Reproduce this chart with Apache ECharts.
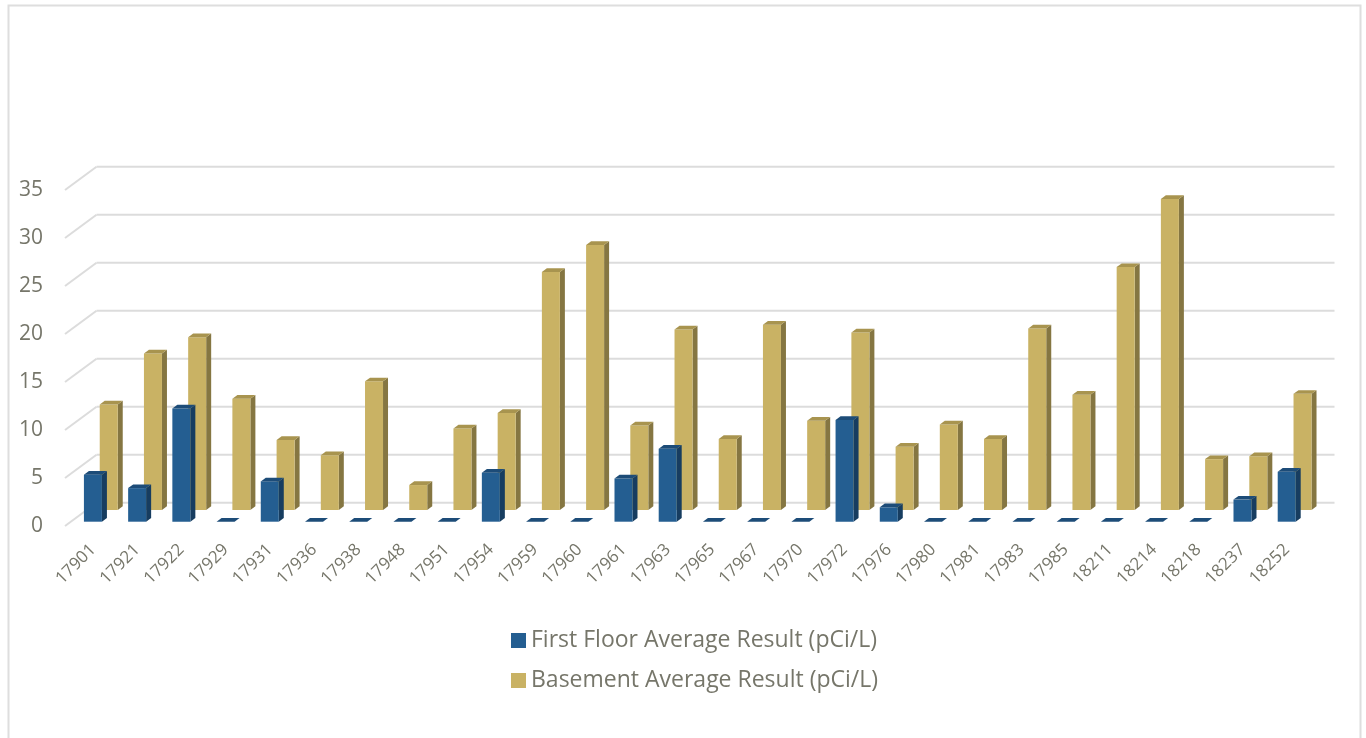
<!DOCTYPE html>
<html>
<head>
<meta charset="utf-8">
<title>Radon results by ZIP code</title>
<script src="https://cdn.jsdelivr.net/npm/echarts@6/dist/echarts.min.js"></script>
<style>
  html, body { margin: 0; padding: 0; background: #ffffff; }
  #chart { width: 1366px; height: 738px; }
</style>
</head>
<body>
<div id="chart"></div>
<script>
// ZIP codes along the category axis
const categories = ['17901','17921','17922','17929','17931','17936','17938','17948','17951','17954',
  '17959','17960','17961','17963','17965','17967','17970','17972','17976','17980',
  '17981','17983','17985','18211','18214','18218','18237','18252'];

// Average radon results, pCi/L
const firstFloor = [4.9, 3.5, 11.8, 0, 4.2, 0, 0, 0, 0, 5.1,
  0, 0, 4.5, 7.6, 0, 0, 0, 10.6, 1.5, 0,
  0, 0, 0, 0, 0, 0, 2.3, 5.2];
const basement = [11.0, 16.3, 18.0, 11.6, 7.3, 5.7, 13.4, 2.6, 8.5, 10.1,
  24.8, 27.6, 8.8, 18.8, 7.4, 19.3, 9.3, 18.5, 6.6, 8.9,
  7.4, 18.9, 12.0, 25.3, 32.4, 5.3, 5.6, 12.1];

// Value axis ticks
const yTicks = [0, 5, 10, 15, 20, 25, 30, 35];

const seriesNames = ['First Floor Average Result (pCi/L)', 'Basement Average Result (pCi/L)'];

// Oblique 3D projection: depth d moves a point right by d*K and up by d
const K = 31.5 / 23.3;
const WALL_DEPTH = 23.3;          // back wall behind the front plane
const ROW_DEPTH = [4.3, 16];      // depth of each series row
const BAR_W = 18;                 // front face width
const BAR_D = 3.7;                // bar thickness in depth

const TEXT = '#76766a';
const FONT = 'Open Sans';
const GRID_COLOR = '#dcdcdc';

const palette = [
  { front: '#245e91', side: '#173d60', top: '#1d4c78' },
  { front: '#c9b264', side: '#857642', top: '#a8944f' }
];

function barRenderer(rowDepth, colors) {
  return function (params, api) {
    const idx = api.value(0);
    const val = api.value(1);
    const base = api.coord([idx, 0]);
    const top = api.coord([idx, val]);
    const cx = base[0] + rowDepth * K;
    const xl = cx - BAR_W / 2, xr = cx + BAR_W / 2;
    const yb = base[1] - rowDepth, yt = top[1] - rowDepth;
    const dx = BAR_D * K, dy = -BAR_D;
    return {
      type: 'group',
      children: [
        { type: 'polygon', shape: { points: [[xr, yt], [xr, yb], [xr + dx, yb + dy], [xr + dx, yt + dy]] },
          style: { fill: colors.side } },
        { type: 'rect', shape: { x: xl, y: yt, width: BAR_W, height: yb - yt },
          style: { fill: colors.front } },
        { type: 'polygon', shape: { points: [[xl, yt], [xr, yt], [xr + dx, yt + dy], [xl + dx, yt + dy]] },
          style: { fill: colors.top } }
      ]
    };
  };
}

function wallRenderer(params, api) {
  const v = api.value(1);
  const cs = params.coordSys;
  const y = api.coord([0, v])[1];
  const x0 = cs.x, x1 = cs.x + cs.width;
  const bx = WALL_DEPTH * K, by = -WALL_DEPTH;
  const lineStyle = { stroke: GRID_COLOR, lineWidth: 2, fill: null };
  return {
    type: 'group',
    children: [
      { type: 'line', shape: { x1: x0, y1: y, x2: x0 + bx, y2: y + by }, style: lineStyle },
      { type: 'line', shape: { x1: x0 + bx, y1: y + by, x2: x1 + bx, y2: y + by }, style: lineStyle }
    ]
  };
}

const chart = echarts.init(document.getElementById('chart'), null, { renderer: 'canvas' });

chart.setOption({
  backgroundColor: '#ffffff',
  animation: false,
  color: [palette[0].front, palette[1].front],
  textStyle: { fontFamily: FONT },
  graphic: [{
    type: 'rect', silent: true,
    shape: { x: 8.5, y: 5.5, width: 1352, height: 800 },
    style: { fill: null, stroke: '#dedede', lineWidth: 2 }
  }],
  grid: [
    { left: 65, right: 63, top: 190, bottom: 212 },
    { left: 71, right: 57, top: 190, bottom: 212 }
  ],
  xAxis: [
    { type: 'category', gridIndex: 0, data: categories,
      axisLine: { show: false }, axisTick: { show: false }, axisLabel: { show: false } },
    { type: 'category', gridIndex: 1, data: categories,
      axisLine: { show: false }, axisTick: { show: false },
      axisLabel: { interval: 0, rotate: 45, margin: 21, fontSize: 17, color: TEXT, fontFamily: FONT } }
  ],
  yAxis: [
    { type: 'value', gridIndex: 0, min: 0, max: 35, interval: 5,
      axisLine: { show: false }, axisTick: { show: false }, splitLine: { show: false },
      axisLabel: { margin: 22, fontSize: 21, color: TEXT, fontFamily: FONT } },
    { type: 'value', gridIndex: 1, min: 0, max: 35, show: false }
  ],
  legend: {
    orient: 'vertical',
    left: 506, top: 624,
    itemWidth: 15, itemHeight: 15, itemGap: 17,
    icon: 'rect',
    data: seriesNames,
    textStyle: { fontSize: 23, color: TEXT, fontFamily: FONT }
  },
  series: [
    {
      type: 'custom', name: 'walls', xAxisIndex: 0, yAxisIndex: 0, silent: true, z: 1,
      renderItem: wallRenderer,
      data: yTicks.map(v => [categories[0], v]),
      encode: { x: 0, y: 1 }
    },
    {
      type: 'custom', name: seriesNames[1], xAxisIndex: 0, yAxisIndex: 0, z: 2,
      itemStyle: { color: palette[1].front },
      renderItem: barRenderer(ROW_DEPTH[1], palette[1]),
      data: categories.map((c, i) => [c, basement[i]]),
      encode: { x: 0, y: 1 }
    },
    {
      type: 'custom', name: seriesNames[0], xAxisIndex: 0, yAxisIndex: 0, z: 3,
      itemStyle: { color: palette[0].front },
      renderItem: barRenderer(ROW_DEPTH[0], palette[0]),
      data: categories.map((c, i) => [c, firstFloor[i]]),
      encode: { x: 0, y: 1 }
    }
  ]
});
</script>
</body>
</html>
